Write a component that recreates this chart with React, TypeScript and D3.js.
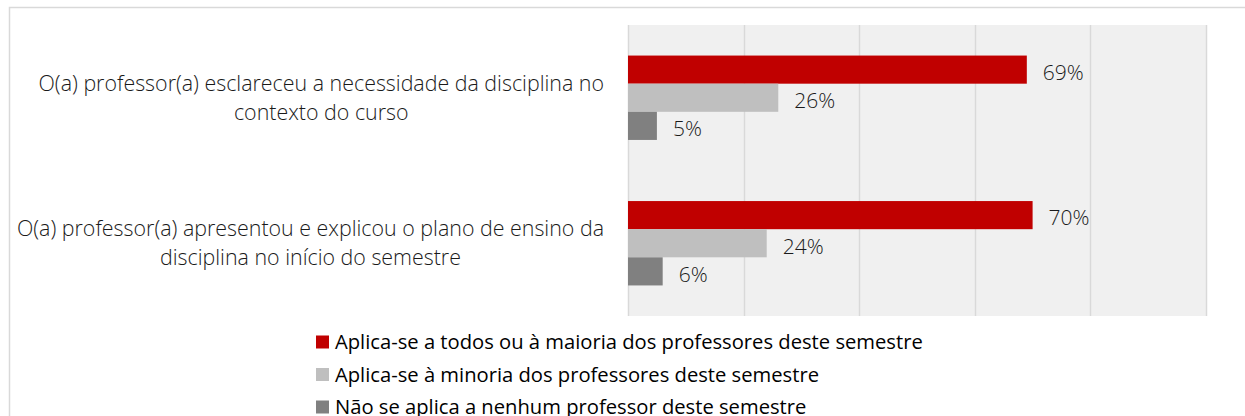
import React, { useEffect, useRef } from "react";
import * as d3 from "d3";

const categories = [
  "O(a) professor(a) esclareceu a necessidade da disciplina no contexto do curso",
  "O(a) professor(a) apresentou e explicou o plano de ensino da disciplina no início do semestre",
];
const categoryLines = [
  ["O(a) professor(a) esclareceu a necessidade da disciplina no", "contexto do curso"],
  ["O(a) professor(a) apresentou e explicou o plano de ensino da", "disciplina no início do semestre"],
];
const seriesNames = [
  "Aplica-se a todos ou à maioria dos professores deste semestre",
  "Aplica-se à minoria dos professores deste semestre",
  "Não se aplica a nenhum professor deste semestre",
];
const seriesValues = [
  [0.69, 0.7],
  [0.26, 0.24],
  [0.05, 0.06],
];
const seriesColors = ["#c00000", "#bfbfbf", "#808080"];
const xTicks = [0, 0.2, 0.4, 0.6, 0.8, 1];

const W = 1245;
const H = 416;

export default function App() {
  const ref = useRef<SVGSVGElement | null>(null);

  useEffect(() => {
    const svg = d3.select(ref.current);
    svg.selectAll("*").remove();

    const plot = { left: 628, right: 1206, top: 25, bottom: 316 };
    const x = d3.scaleLinear().domain([0, 1]).range([plot.left, plot.right]);
    const y0 = d3
      .scaleBand<string>()
      .domain(categories)
      .range([plot.top, plot.bottom])
      .paddingInner(0.42)
      .paddingOuter(0.21);
    const y1 = d3
      .scaleBand<string>()
      .domain(seriesNames)
      .range([0, y0.bandwidth()]);

    // outer frame
    svg
      .append("path")
      .attr("d", `M9.5,${H + 2} V7.5 H${W + 2}`)
      .attr("fill", "none")
      .attr("stroke", "#d9d9d9")
      .attr("stroke-width", 1.5);

    // plot background
    svg
      .append("rect")
      .attr("x", plot.left)
      .attr("y", plot.top)
      .attr("width", plot.right - plot.left)
      .attr("height", plot.bottom - plot.top)
      .attr("fill", "#f0f0f0");

    // gridlines
    svg
      .append("g")
      .selectAll("line")
      .data(xTicks)
      .join("line")
      .attr("x1", (d) => Math.round(x(d)) + 0.5)
      .attr("x2", (d) => Math.round(x(d)) + 0.5)
      .attr("y1", plot.top)
      .attr("y2", plot.bottom)
      .attr("stroke", "#d9d9d9")
      .attr("stroke-width", 1.5);

    // bars
    seriesNames.forEach((s, si) => {
      const g = svg.append("g");
      g.selectAll("rect")
        .data(categories)
        .join("rect")
        .attr("x", x(0))
        .attr("y", (c) => (y0(c) as number) + (y1(s) as number))
        .attr("width", (c, ci) => x(seriesValues[si][ci]) - x(0))
        .attr("height", y1.bandwidth())
        .attr("fill", seriesColors[si]);
      g.selectAll("text")
        .data(categories)
        .join("text")
        .attr("x", (c, ci) => x(seriesValues[si][ci]) + 16)
        .attr("y", (c) => (y0(c) as number) + (y1(s) as number) + y1.bandwidth() / 2 + 3)
        .attr("dy", "0.35em")
        .attr("font-family", "'Open Sans', sans-serif")
        .attr("font-weight", 300)
        .attr("font-size", 21)
        .attr("fill", "#1a1a1a")
        .text((c, ci) => `${Math.round(seriesValues[si][ci] * 100)}%`);
    });

    // category labels
    const labelRight = 604;
    const lineH = 29;
    categories.forEach((c, ci) => {
      const lines = categoryLines[ci];
      const cy = (y0(c) as number) + y0.bandwidth() / 2;
      const g = svg.append("g");
      const texts = g
        .selectAll("text")
        .data(lines)
        .join("text")
        .attr("y", (d, i) => cy + (i - (lines.length - 1) / 2) * lineH)
        .attr("dy", "0.35em")
        .attr("text-anchor", "middle")
        .attr("font-family", "'Open Sans', sans-serif")
        .attr("font-weight", 300)
        .attr("font-size", 21.4)
        .attr("fill", "#1a1a1a")
        .text((d) => d);
      let maxW = 0;
      texts.each(function () {
        maxW = Math.max(maxW, (this as SVGTextElement).getComputedTextLength());
      });
      texts.attr("x", labelRight - maxW / 2);
    });

    // legend
    const legendX = 316;
    const legendY0 = 342;
    const legendStep = 32.5;
    const lg = svg.append("g");
    seriesNames.forEach((s, si) => {
      const cy = legendY0 + si * legendStep;
      lg.append("rect")
        .attr("x", legendX)
        .attr("y", cy - 6.5)
        .attr("width", 13)
        .attr("height", 13)
        .attr("fill", seriesColors[si]);
      lg.append("text")
        .attr("x", legendX + 19)
        .attr("y", cy)
        .attr("dy", "0.35em")
        .attr("font-family", "'Open Sans', sans-serif")
        .attr("font-size", 20.2)
        .attr("fill", "#000")
        .text(s);
    });
  }, []);

  return (
    <svg
      ref={ref}
      width={W}
      height={H}
      style={{ position: "absolute", left: 0, top: 0, background: "#fff" }}
    />
  );
}
